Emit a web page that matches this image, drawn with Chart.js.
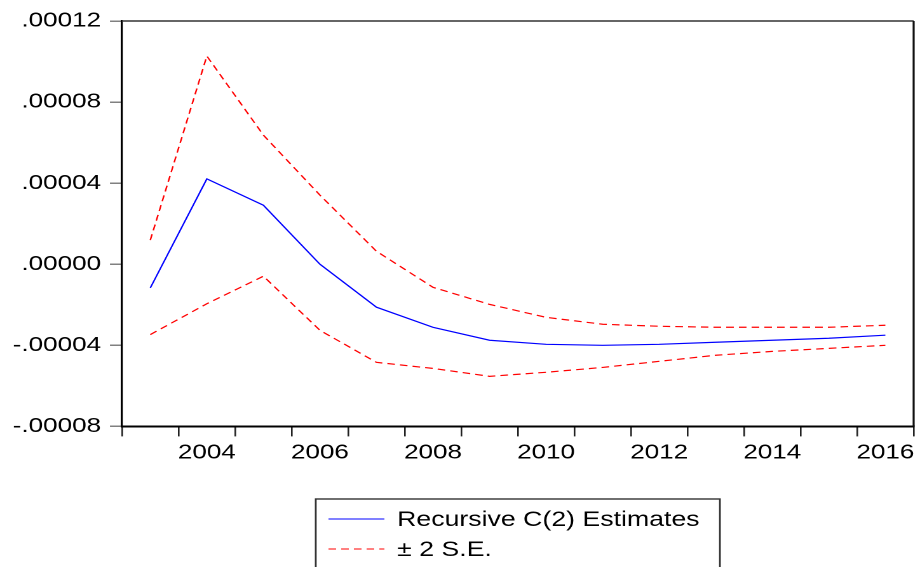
<!DOCTYPE html>
<html>
<head>
<meta charset="utf-8">
<script src="https://cdn.jsdelivr.net/npm/chart.js@4/dist/chart.umd.min.js"></script>
<style>
  html, body { margin: 0; padding: 0; background: #ffffff; }
  /* the graph is drawn at a narrower width and stretched horizontally */
  #wrap { position: absolute; left: 0; top: 0; width: 724px; height: 567px;
          transform: scaleX(1.2707); transform-origin: 0 0; }
</style>
</head>
<body>
<div id="wrap"><canvas id="chart" width="724" height="567"></canvas></div>
<script>
// Recursive coefficient estimate for C(2) with its +/- 2 standard error band
const years = ['2003', '2004', '2005', '2006', '2007', '2008', '2009',
               '2010', '2011', '2012', '2013', '2014', '2015', '2016'];
const labelledYears = ['2004', '2006', '2008', '2010', '2012', '2014', '2016'];

const recursiveC2 = [-0.0000117, 0.0000421, 0.0000291, 0.0000000, -0.0000212, -0.0000311, -0.0000375,
                     -0.0000395, -0.0000400, -0.0000395, -0.0000385, -0.0000375, -0.0000365, -0.0000350];
const upperBand   = [0.0000119, 0.0001027, 0.0000637, 0.0000341, 0.0000064, -0.0000114, -0.0000198,
                     -0.0000262, -0.0000296, -0.0000306, -0.0000311, -0.0000311, -0.0000311, -0.0000301];
const lowerBand   = [-0.0000347, -0.0000195, -0.0000059, -0.0000326, -0.0000484, -0.0000514, -0.0000553,
                     -0.0000533, -0.0000509, -0.0000479, -0.0000449, -0.0000430, -0.0000415, -0.0000400];

const yTickValues = [-0.00008, -0.00004, 0, 0.00004, 0.00008, 0.00012];

const seriesLabel = 'Recursive C(2) Estimates';
const bandLabel = '\u00B1 2 S.E.';

const FONT = '"Liberation Sans", Arial, Helvetica, sans-serif';
Chart.defaults.font.family = FONT;
Chart.defaults.font.size = 20.5;
Chart.defaults.color = '#000000';

// ".00012" style labels, as printed by econometrics packages
function formatTick(v) {
  const s = Math.abs(v) < 1e-12 ? '0.00000' : Number(v).toFixed(5);
  return s.replace('0.', '.');
}

// top and right edges of the plot frame
const frame = {
  id: 'frame',
  afterDraw(chart) {
    const { ctx, chartArea: a } = chart;
    ctx.save();
    ctx.strokeStyle = '#333333';
    ctx.lineWidth = 1.5;
    ctx.beginPath();
    ctx.moveTo(a.left, a.top);
    ctx.lineTo(a.right, a.top);
    ctx.stroke();
    ctx.strokeStyle = '#111111';
    ctx.lineWidth = 1.6;
    ctx.beginPath();
    ctx.moveTo(a.right, a.top);
    ctx.lineTo(a.right, a.bottom);
    ctx.stroke();
    ctx.restore();
  }
};

// boxed legend below the plot, one entry per row
const boxedLegend = {
  id: 'boxedLegend',
  afterDraw(chart, args, opts) {
    const { ctx, chartArea: a } = chart;
    const entries = [];
    chart.data.datasets.forEach(ds => {
      if (!entries.some(e => e.label === ds.label)) entries.push(ds);
    });
    ctx.save();
    ctx.font = '21px ' + FONT;
    const textW = Math.max(...entries.map(e => ctx.measureText(e.label).width));
    const sample = 44, gap = 10, padL = 10, padR = 16;
    const boxW = padL + sample + gap + textW + padR;
    const left = (a.left + a.right) / 2 - boxW / 2;
    const top = opts.top;
    ctx.strokeStyle = '#333333';
    ctx.lineWidth = 1.4;
    ctx.strokeRect(left, top, boxW, chart.height - top + 10);
    entries.forEach((ds, i) => {
      const y = top + opts.firstRow + i * opts.rowGap;
      ctx.strokeStyle = ds.borderColor;
      ctx.lineWidth = 1;
      ctx.setLineDash(ds.borderDash || []);
      ctx.beginPath();
      ctx.moveTo(left + padL, y);
      ctx.lineTo(left + padL + sample, y);
      ctx.stroke();
      ctx.setLineDash([]);
      ctx.fillStyle = '#000000';
      ctx.textAlign = 'left';
      ctx.textBaseline = 'middle';
      ctx.fillText(ds.label, left + padL + sample + gap, y + 1);
    });
    ctx.restore();
  }
};

new Chart(document.getElementById('chart'), {
  type: 'line',
  data: {
    labels: years,
    datasets: [
      { label: seriesLabel, data: recursiveC2, borderColor: '#0000ff', borderWidth: 1.2,
        pointRadius: 0, tension: 0, fill: false },
      { label: bandLabel, data: upperBand, borderColor: '#ff0000', borderWidth: 1.2,
        borderDash: [6, 4], pointRadius: 0, tension: 0, fill: false },
      { label: bandLabel, data: lowerBand, borderColor: '#ff0000', borderWidth: 1.2,
        borderDash: [6, 4], pointRadius: 0, tension: 0, fill: false }
    ]
  },
  options: {
    responsive: false,
    devicePixelRatio: 2,
    animation: false,
    layout: { padding: { left: 3, right: 5, top: 21, bottom: 98 } },
    plugins: {
      legend: { display: false },
      tooltip: { enabled: false },
      boxedLegend: { top: 499, firstRow: 20, rowGap: 30 }
    },
    scales: {
      x: {
        type: 'category',
        offset: true,
        grid: { offset: true, drawOnChartArea: false, drawTicks: true, tickLength: 10,
                color: '#222222', lineWidth: 1.3 },
        border: { display: true, color: '#000000', width: 2 },
        ticks: {
          autoSkip: false, maxRotation: 0, padding: 4,
          callback: (v, i) => labelledYears.includes(years[i]) ? years[i] : ''
        }
      },
      y: {
        min: yTickValues[0],
        max: yTickValues[yTickValues.length - 1],
        afterBuildTicks: scale => { scale.ticks = yTickValues.map(v => ({ value: v })); },
        grid: { drawOnChartArea: false, drawTicks: true, tickLength: 9.5,
                color: '#808080', lineWidth: 1.5 },
        border: { display: true, color: '#000000', width: 1.6 },
        ticks: { padding: 7, callback: v => formatTick(v) }
      }
    }
  },
  plugins: [frame, boxedLegend]
});
</script>
</body>
</html>
